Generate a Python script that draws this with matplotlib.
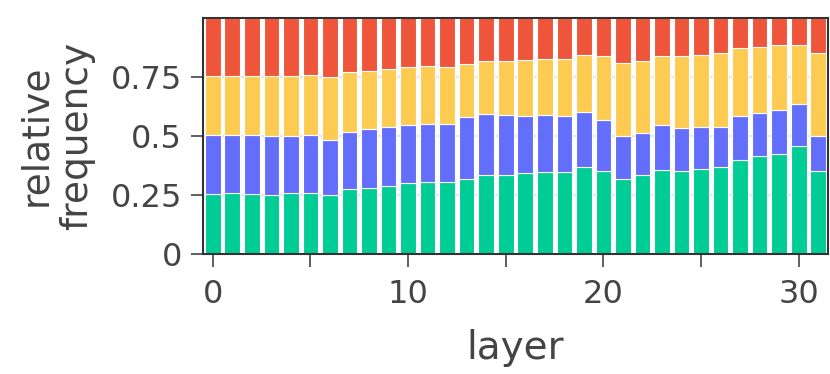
import numpy as np
import matplotlib
matplotlib.use("Agg")
import matplotlib.pyplot as plt

layers = list(range(32))
# cumulative boundaries -> converted to per-category fractions
green = [0.254, 0.258, 0.254, 0.250, 0.257, 0.258, 0.251, 0.275, 0.280, 0.287,
         0.299, 0.305, 0.304, 0.319, 0.332, 0.335, 0.342, 0.347, 0.347, 0.366,
         0.353, 0.318, 0.332, 0.357, 0.349, 0.359, 0.366, 0.397, 0.415, 0.424,
         0.458, 0.352]
green_blue = [0.505, 0.505, 0.505, 0.497, 0.501, 0.505, 0.484, 0.515, 0.528, 0.535,
              0.544, 0.551, 0.551, 0.579, 0.590, 0.589, 0.582, 0.586, 0.583, 0.602,
              0.566, 0.500, 0.511, 0.545, 0.534, 0.538, 0.537, 0.582, 0.596, 0.610,
              0.636, 0.497]
green_blue_yellow = [0.753, 0.751, 0.754, 0.753, 0.754, 0.755, 0.748, 0.768, 0.775, 0.781,
                     0.791, 0.794, 0.792, 0.805, 0.818, 0.816, 0.822, 0.823, 0.825, 0.842,
                     0.836, 0.808, 0.815, 0.836, 0.839, 0.843, 0.850, 0.869, 0.875, 0.884,
                     0.884, 0.850]

blue = [b - g for b, g in zip(green_blue, green)]
yellow = [y - b for y, b in zip(green_blue_yellow, green_blue)]
red = [1 - y for y in green_blue_yellow]

series = [green, blue, yellow, red]
colors = ["#00CC96", "#636EFA", "#FECB52", "#EF553B"]

ytick_vals = [0, 0.25, 0.5, 0.75]
ytick_labels = ["0", "0.25", "0.5", "0.75"]
xtick_vals = [0, 5, 10, 15, 20, 25, 30]
xtick_labels = ["0", "", "10", "", "20", "", "30"]

plt.rcParams['font.family'] = ['DejaVu Sans']
txt = "#444444"

fig = plt.figure(figsize=(8.3, 3.74), dpi=100)
ax = fig.add_axes([203/830, 1-254/374, (828-203)/830, (254-17.5)/374])

for yv in [0.25, 0.5, 0.75]:
    ax.axhline(yv, color="#e6e6e6", lw=1.5, zorder=0)

bottom = np.zeros(len(layers))
for vals, c in zip(series, colors):
    ax.bar(layers, vals, bottom=bottom, width=0.8, color=c,
           edgecolor="white", linewidth=0.8, zorder=2)
    bottom += np.array(vals)

ax.set_xlim(-0.5, 31.5)
ax.set_ylim(0, 1)
ax.set_yticks(ytick_vals)
ax.set_yticklabels(ytick_labels)
ax.set_xticks(xtick_vals)
ax.set_xticklabels(xtick_labels)

for s in ax.spines.values():
    s.set_color("#333333")
    s.set_linewidth(1.5)

ax.tick_params(axis="both", direction="out", length=9, width=1.2,
               color="#444444", labelsize=23, labelcolor=txt, pad=6)
ax.tick_params(axis="x", pad=9)

ax.set_xlabel("layer", fontsize=28, color=txt, labelpad=14)
ax.set_ylabel("relative\nfrequency", fontsize=27, color=txt, labelpad=11,
              linespacing=1.2)

fig.savefig("out.png", dpi=100)
